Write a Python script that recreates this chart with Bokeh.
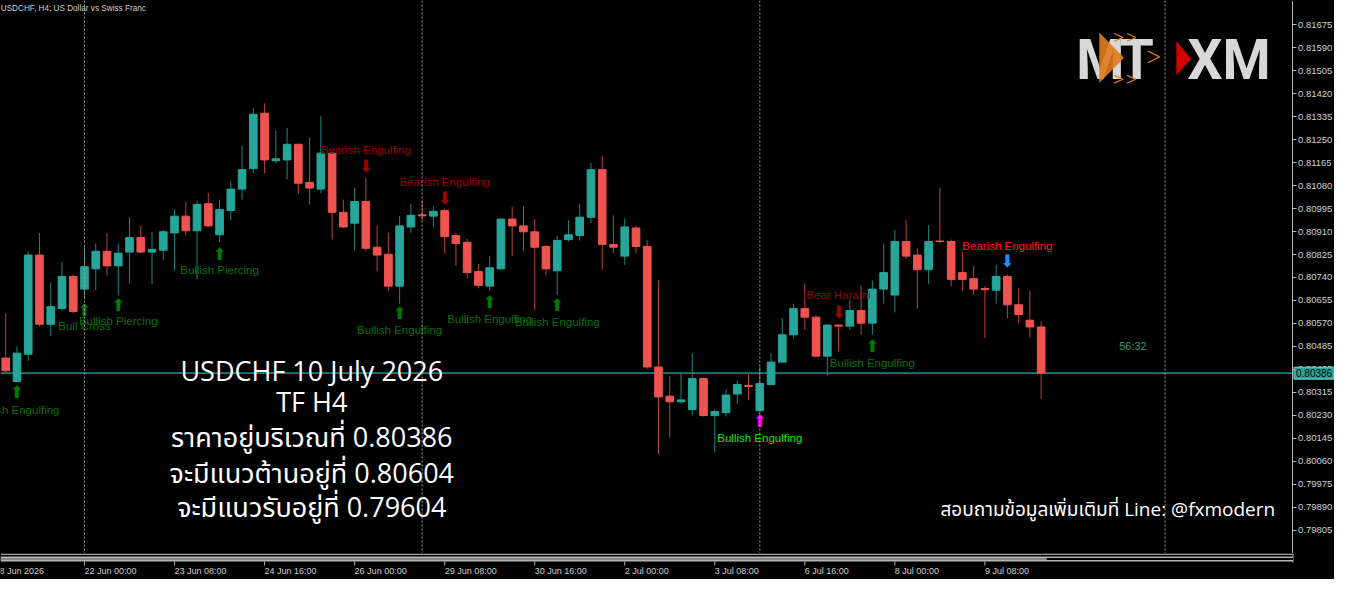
from bokeh.plotting import figure
from bokeh.models import Range1d, Span, Label, FixedTicker, PrintfTickFormatter, BoxAnnotation, ColumnDataSource, LinearAxis
from bokeh.layouts import column
from bokeh.embed import file_html
from bokeh.resources import INLINE
from bokeh.core.properties import value

# ---------------- data ----------------
bar_index = list(range(-7, 86))
open_ = [0.80442, 0.80355, 0.80456, 0.80823, 0.80567, 0.80625, 0.80744, 0.80697, 0.80772, 0.80837,
         0.80783, 0.80834, 0.80888, 0.80834, 0.80841, 0.80905, 0.80967, 0.80913, 0.81013, 0.80898,
         0.80988, 0.81067, 0.81143, 0.81348, 0.81172, 0.81175, 0.81233, 0.81092, 0.81067, 0.81200,
         0.80981, 0.80941, 0.81021, 0.80852, 0.80826, 0.80708, 0.80927, 0.80972, 0.80967, 0.80988,
         0.80895, 0.80870, 0.80762, 0.80708, 0.80772, 0.80956, 0.80931, 0.80909, 0.80855, 0.80765,
         0.80880, 0.80895, 0.80963, 0.81139, 0.80862, 0.80819, 0.80923, 0.80855, 0.80409, 0.80301,
         0.80280, 0.80251, 0.80366, 0.80229, 0.80240, 0.80309, 0.80341, 0.80247, 0.80344, 0.80427,
         0.80528, 0.80625, 0.80593, 0.80449, 0.80564, 0.80560, 0.80618, 0.80571, 0.80697, 0.80675,
         0.80873, 0.80823, 0.80769, 0.80875, 0.80873, 0.80758, 0.80736, 0.80699, 0.80693, 0.80744,
         0.80639, 0.80582, 0.80557]
high = [0.80607, 0.80485, 0.80837, 0.80905, 0.80722, 0.80798, 0.80751, 0.80855, 0.80866, 0.80905,
        0.80866, 0.80963, 0.80931, 0.80909, 0.80916, 0.80992, 0.81021, 0.81024, 0.81053, 0.81028,
        0.81096, 0.81229, 0.81366, 0.81384, 0.81283, 0.81294, 0.81236, 0.81258, 0.81337, 0.81207,
        0.81028, 0.81071, 0.81107, 0.80931, 0.80905, 0.80967, 0.81013, 0.81024, 0.81003, 0.80995,
        0.80905, 0.80884, 0.80790, 0.80819, 0.80958, 0.81003, 0.81003, 0.80956, 0.80859, 0.80895,
        0.80952, 0.81013, 0.81164, 0.81190, 0.80970, 0.80959, 0.80931, 0.80877, 0.80729, 0.80377,
        0.80391, 0.80460, 0.80370, 0.80251, 0.80327, 0.80359, 0.80380, 0.80409, 0.80460, 0.80589,
        0.80643, 0.80718, 0.80600, 0.80567, 0.80567, 0.80657, 0.80711, 0.80729, 0.80866, 0.80916,
        0.80952, 0.80848, 0.80934, 0.81071, 0.80880, 0.80834, 0.80783, 0.80708, 0.80787, 0.80751,
        0.80700, 0.80690, 0.80578]
low = [0.80388, 0.80352, 0.80431, 0.80560, 0.80524, 0.80618, 0.80607, 0.80661, 0.80693, 0.80747,
       0.80675, 0.80718, 0.80830, 0.80715, 0.80805, 0.80765, 0.80895, 0.80733, 0.80927, 0.80870,
       0.80952, 0.81028, 0.81128, 0.81125, 0.81161, 0.81103, 0.81049, 0.81010, 0.81053, 0.80880,
       0.80923, 0.80841, 0.80837, 0.80762, 0.80690, 0.80643, 0.80905, 0.80949, 0.80927, 0.80830,
       0.80783, 0.80736, 0.80700, 0.80690, 0.80769, 0.80819, 0.80837, 0.80618, 0.80747, 0.80675,
       0.80873, 0.80877, 0.80941, 0.80769, 0.80830, 0.80787, 0.80830, 0.80402, 0.80086, 0.80147,
       0.80273, 0.80229, 0.80226, 0.80093, 0.80226, 0.80273, 0.80287, 0.80240, 0.80341, 0.80424,
       0.80514, 0.80546, 0.80445, 0.80377, 0.80467, 0.80546, 0.80528, 0.80528, 0.80643, 0.80611,
       0.80808, 0.80625, 0.80715, 0.80866, 0.80708, 0.80690, 0.80675, 0.80517, 0.80643, 0.80589,
       0.80571, 0.80517, 0.80291]
close = [0.80395, 0.80460, 0.80823, 0.80567, 0.80632, 0.80744, 0.80614, 0.80780, 0.80837, 0.80783,
         0.80830, 0.80888, 0.80834, 0.80844, 0.80909, 0.80967, 0.80913, 0.81010, 0.80931, 0.80992,
         0.81067, 0.81139, 0.81344, 0.81175, 0.81179, 0.81233, 0.81089, 0.81071, 0.81200, 0.80981,
         0.80927, 0.81021, 0.80848, 0.80823, 0.80708, 0.80931, 0.80970, 0.80968, 0.80985, 0.80891,
         0.80866, 0.80758, 0.80711, 0.80776, 0.80956, 0.80931, 0.80909, 0.80852, 0.80772, 0.80877,
         0.80898, 0.80963, 0.81139, 0.80862, 0.80852, 0.80927, 0.80855, 0.80409, 0.80298, 0.80280,
         0.80287, 0.80366, 0.80229, 0.80244, 0.80305, 0.80344, 0.80337, 0.80348, 0.80427, 0.80528,
         0.80625, 0.80593, 0.80449, 0.80564, 0.80560, 0.80618, 0.80571, 0.80697, 0.80758, 0.80873,
         0.80819, 0.80769, 0.80873, 0.80873, 0.80733, 0.80733, 0.80697, 0.80695, 0.80744, 0.80639,
         0.80603, 0.80557, 0.80386]

current_price = 0.80386
countdown = "56:32"

sig_index = [-6, 0, 3, 12, 25, 32, 28, 36, 42, 60, 67, 70, 82]
sig_up = [True, True, True, True, False, False, True, True, True, True, False, True, False]
sig_arrow_price = [0.80316, 0.80621, 0.80639, 0.80826, 0.81154, 0.81035, 0.80607, 0.80650, 0.80639,
                   0.80208, 0.80614, 0.80488, 0.80801]
sig_label_price = [0.80251, 0.80560, 0.80578, 0.80769, 0.81211, 0.81092, 0.80546, 0.80585, 0.80575,
                   0.80147, 0.80675, 0.80424, 0.80855]
sig_labels = ["Bullish Engulfing", "Bull Cross", "Bullish Piercing", "Bullish Piercing",
              "Bearish Engulfing", "Bearish Engulfing", "Bullish Engulfing", "Bullish Engulfing",
              "Bullish Engulfing", "Bullish Engulfing", "Bear Harami", "Bullish Engulfing",
              "Bearish Engulfing"]

week_separators = [0, 30, 60, 96]

price_ticks = [0.81675, 0.81590, 0.81505, 0.81420, 0.81335, 0.81250, 0.81165, 0.81080, 0.80995,
               0.80910, 0.80825, 0.80740, 0.80655, 0.80570, 0.80485, 0.80400, 0.80315, 0.80230,
               0.80145, 0.80060, 0.79975, 0.79890, 0.79805]

time_ticks = [-8, 0, 8, 16, 24, 32, 40, 48, 56, 64, 72, 80]
time_labels = ["18 Jun 2026", "22 Jun 00:00", "23 Jun 08:00", "24 Jun 16:00", "26 Jun 00:00",
               "29 Jun 08:00", "30 Jun 16:00", "2 Jul 00:00", "3 Jul 08:00", "6 Jul 16:00",
               "8 Jul 00:00", "9 Jul 08:00"]

chart_title = "USDCHF, H4:  US Dollar vs Swiss Franc"
info_lines = ["USDCHF 10 July 2026", "TF H4", "ราคาอยู่บริเวณที่ 0.80386",
              "จะมีแนวต้านอยู่ที่ 0.80604", "จะมีแนวรับอยู่ที่ 0.79604"]
footer_text = "สอบถามข้อมูลเพิ่มเติมที่ Line: @fxmodern"

# ---------------- layout helpers (reference pixel -> data, decoration only) ----------------
def dx(xpx):
    return (xpx - 85) / 11.39

def dy(ypx):
    return 0.817649 - 0.00003596 * ypx

X0, X_AXIS, X_END = dx(0), dx(1308), dx(1350)
Y_TOP, Y_BOT = dy(0), dy(569)
FRAME_W = 1334

BULL, BEAR = "#26a69a", "#ef5350"
BULL_W, BEAR_W = "#1f857b", "#b8423e"
AXIS_C = "#cfcfcf"
THAI_FONT = value("Open Sans, Noto Sans Thai, Loma, sans-serif")

p = figure(frame_width=FRAME_W, frame_height=553, x_range=Range1d(X0, X_END), y_range=Range1d(Y_BOT, Y_TOP),
           output_backend="svg", toolbar_location=None, x_axis_location=None, y_axis_location=None,
           background_fill_color="black", border_fill_color="black", min_border=0)
p.outline_line_color = None
p.grid.visible = False

ya = LinearAxis(fixed_location=X_AXIS, ticker=FixedTicker(ticks=price_ticks),
                formatter=PrintfTickFormatter(format="%.5f"))
ya.major_label_text_font = "Liberation Sans"
ya.major_label_text_font_size = "9.5px"
ya.major_label_text_color = AXIS_C
ya.axis_line_color = "#b4b4b4"
ya.major_tick_line_color = "#b4b4b4"
ya.major_tick_out = 4
ya.major_tick_in = 0
ya.minor_tick_line_color = None
ya.major_label_standoff = 1
p.add_layout(ya, "right")

for s in week_separators:
    p.add_layout(Span(location=s, dimension="height", line_color="#9c9c9c", line_dash="2 2", line_width=1))

p.segment(x0=[X0], x1=[X_AXIS], y0=[current_price], y1=[current_price], line_color="#1f7d78", line_width=1.6)

bull = [c >= o for o, c in zip(open_, close)]
src = ColumnDataSource(dict(
    x=bar_index, high=high, low=low,
    top=[max(o, c) for o, c in zip(open_, close)],
    bottom=[min(o, c) for o, c in zip(open_, close)],
    body=[BULL if b else BEAR for b in bull],
    wick=[BULL_W if b else BEAR_W for b in bull],
))
p.segment(x0="x", x1="x", y0="low", y1="high", line_color="wick", line_width=1, source=src)
p.vbar(x="x", width=0.68, top="top", bottom="bottom", fill_color="body", line_color="body",
       line_width=1, source=src)

# pattern signals
arrow_colors = ["#007a00", "#007a00", "#007a00", "#007a00", "#a00000", "#a00000", "#007a00",
                "#007a00", "#007a00", "#ff00ff", "#a00000", "#007a00", "#1e90ff"]
label_colors = ["#0b6e0b", "#0b6e0b", "#0b6e0b", "#0b6e0b", "#8e0a0a", "#8e0a0a", "#0b6e0b",
                "#0b6e0b", "#0b6e0b", "#1ee01e", "#8e0a0a", "#0b6e0b", "#ff1a1a"]
sig_src = ColumnDataSource(dict(
    x=sig_index, ya=sig_arrow_price, yl=sig_label_price, label=sig_labels,
    arrow=["⬆" if u else "⬇" for u in sig_up], ac=arrow_colors, lc=label_colors))
p.text(x="x", y="ya", text="arrow", text_color="ac", text_align="center", text_baseline="middle",
       text_font=value("DejaVu Sans"), text_font_size="17px", source=sig_src)
p.text(x="x", y="yl", text="label", text_color="lc", text_align="center", text_baseline="middle",
       text_font=value("Liberation Sans"), text_font_size="11.5px", source=sig_src)

# title
p.text(x=[X0 + 0.02], y=[dy(8)], text=[chart_title], text_color=AXIS_C, text_align="left",
       text_baseline="middle", text_font=value("Liberation Sans"), text_font_size="8.2px")

# countdown
p.text(x=[dx(1146)], y=[dy(356)], text=[countdown], text_color="#2e9e72", text_align="center",
       text_baseline="middle", text_font=value("Liberation Sans"), text_font_size="11px")

# info text block
info_y = [dy(381), dy(413), dy(449), dy(486), dy(521)]
p.text(x=[dx(315)] * len(info_lines), y=info_y, text=info_lines, text_color="white",
       text_align="center", text_baseline="middle", text_font=THAI_FONT, text_font_size="27px")
p.text(x=[dx(1290)], y=[dy(523)], text=[footer_text], text_color="white", text_align="right",
       text_baseline="middle", text_font=THAI_FONT, text_font_size="19px")

# logo
p.text(x=[dx(1113), dx(1150), dx(1219), dx(1261)], y=[dy(61)] * 4, text=["M", "T", "X", "M"],
       text_color="#d8d8d8", text_align="center", text_baseline="middle",
       text_font=value("Roboto"), text_font_style="bold", text_font_size="55px")
p.patch(x=[dx(1112), dx(1112), dx(1137)], y=[dy(33), dy(85), dy(59)], fill_color="#e07a1e",
        fill_alpha=0.9, line_color=None)
p.multi_line(xs=[[dx(1127), dx(1136), dx(1127)], [dx(1140), dx(1149), dx(1140)],
                 [dx(1161), dx(1173), dx(1161)], [dx(1127), dx(1136), dx(1127)],
                 [dx(1140), dx(1149), dx(1140)]],
             ys=[[dy(34), dy(38), dy(42)], [dy(34), dy(38), dy(42)], [dy(52), dy(58), dy(64)],
                 [dy(77), dy(81), dy(85)], [dy(77), dy(81), dy(85)]],
             line_color="#e07a1e", line_width=1.2)
p.patch(x=[dx(1190), dx(1190), dx(1205)], y=[dy(42), dy(77), dy(60)], fill_color="#d40000", line_color=None)

# current price box on the axis
p.add_layout(Label(x=X_AXIS, x_offset=1, y=current_price, text="%.5f" % current_price,
                   text_color="black", text_align="left", text_baseline="middle",
                   text_font="Liberation Sans", text_font_size="10px", level="overlay",
                   background_fill_color="#26a69a", border_line_color="#7fd0c8", padding=2))

# ---------------- bottom strip with time axis ----------------
sub = figure(frame_width=FRAME_W, frame_height=26, x_range=p.x_range, y_range=Range1d(26, 0),
             output_backend="svg", toolbar_location=None, x_axis_location=None, y_axis_location=None,
             background_fill_color="black", border_fill_color="black", min_border=0)
sub.outline_line_color = None
sub.grid.visible = False
sub.add_layout(BoxAnnotation(top=0, bottom=1.6, right=X_AXIS, fill_color="#a0a0a0", fill_alpha=1, line_color=None))
sub.add_layout(BoxAnnotation(top=3, bottom=8, right=X_AXIS, fill_color="#b4b4b4", fill_alpha=1, line_color=None))
sub.add_layout(BoxAnnotation(top=5, bottom=6, right=X_AXIS, fill_color="#5a5a5a", fill_alpha=1, line_color=None))
sub.add_layout(BoxAnnotation(left=85.5, right=X_AXIS, top=4.5, bottom=6.5, fill_color="black", fill_alpha=1, line_color=None))
sub.segment(x0=[X_AXIS], x1=[X_AXIS], y0=[0], y1=[9], line_color="#b4b4b4", line_width=1)
sub.segment(x0=time_ticks, x1=time_ticks, y0=[8] * len(time_ticks), y1=[12] * len(time_ticks),
            line_color="#b4b4b4", line_width=1)
sub.text(x=time_ticks, y=[17.5] * len(time_ticks), text=time_labels, text_color=AXIS_C,
         text_align="left", text_baseline="middle", text_font=value("Liberation Sans"),
         text_font_size="9px", x_offset=0)

layout = column(p, sub, spacing=0, styles={"background-color": "black"})
open("out.html", "w").write(file_html(layout, INLINE))
